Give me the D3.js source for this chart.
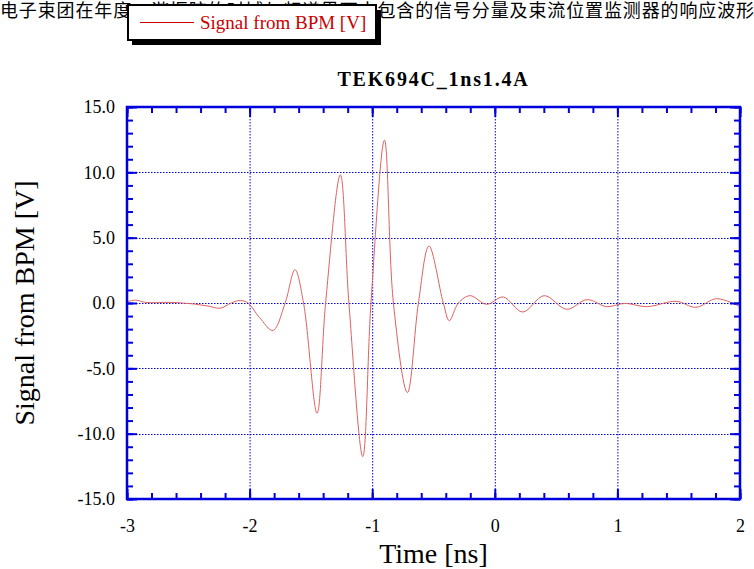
<!DOCTYPE html>
<html>
<head>
<meta charset="utf-8">
<script src="https://cdn.jsdelivr.net/npm/d3@7"></script>
<style>
  body { margin: 0; background: #fff; overflow: hidden; }
  svg { display: block; }
  .serif { font-family: "Liberation Serif", "DejaVu Serif", serif; }
</style>
</head>
<body>
<svg id="chart" width="754" height="569"></svg>
<script>
// waveform (time in ns, signal in V)
var timeNs = [-3.00, -2.93, -2.85, -2.75, -2.65, -2.55, -2.45, -2.33, -2.24, -2.15,
              -2.09, -2.02, -1.92, -1.81, -1.71, -1.63, -1.56, -1.45, -1.38, -1.26,
              -1.19, -1.077, -1.01, -0.90, -0.827, -0.713, -0.623, -0.537, -0.42, -0.371,
              -0.297, -0.202, -0.066, 0.069, 0.227, 0.403, 0.586, 0.754, 0.912, 1.06,
              1.24, 1.48, 1.64, 1.81, 2.00];
var signalV = [0.10, 0.22, 0.05, 0.03, 0.05, 0.00, -0.08, -0.25, -0.40, 0.00,
               0.18, 0.05, -1.10, -2.10, 0.00, 2.55, 0.00, -8.44, 0.00, 9.80,
               0.00, -11.76, 0.00, 12.47, 0.00, -6.86, 0.00, 4.36, 0.00, -1.35,
               0.00, 0.56, -0.10, 0.46, -0.69, 0.56, -0.48, 0.26, -0.28, -0.03,
               -0.28, 0.13, -0.33, 0.33, -0.28];

var xMajor = [-3, -2, -1, 0, 1, 2];
var yMajor = [-15, -10, -5, 0, 5, 10, 15];
var xMinor = d3.range(-3, 2.001, 0.2);
var yMinor = d3.range(-15, 15.001, 1);

var chartTitle = "TEK694C_1ns1.4A";
var seriesName = "Signal from BPM [V]";
var xTitle = "Time [ns]";
var yTitle = "Signal from BPM [V]";
var topText = "电子束团在年度，谐振腔的时域与频谱界面中包含的信号分量及束流位置监测器的响应波形";

var svg = d3.select("#chart");
var plotLeft = 127, plotRight = 740, plotTop = 107, plotBottom = 499;
var blue = "#0000dd";

var x = d3.scaleLinear().domain([-3, 2]).range([plotLeft, plotRight]);
var y = d3.scaleLinear().domain([-15, 15]).range([plotBottom, plotTop]);

// text line along the top edge, behind the legend
svg.append("text")
    .attr("x", 0)
    .attr("y", 17)
    .attr("font-family", "Noto Sans CJK SC")
    .attr("font-size", 18)
    .attr("textLength", 754)
    .attr("lengthAdjust", "spacing")
    .attr("fill", "#000")
    .text(topText);

// legend box with shadow
var legend = svg.append("g");
legend.append("rect")
    .attr("x", 132).attr("y", 10).attr("width", 249).attr("height", 35)
    .attr("fill", "#000");
legend.append("rect")
    .attr("x", 128).attr("y", 5).attr("width", 248).attr("height", 35)
    .attr("fill", "#fff").attr("stroke", "#000").attr("stroke-width", 2);
legend.append("line")
    .attr("x1", 140).attr("x2", 194).attr("y1", 22.5).attr("y2", 22.5)
    .attr("stroke", "#d00000").attr("stroke-width", 1);
legend.append("text")
    .attr("class", "serif")
    .attr("x", 200).attr("y", 29)
    .attr("font-size", 19)
    .attr("fill", "#cc0000")
    .text(seriesName);

// title
svg.append("text")
    .attr("class", "serif")
    .attr("x", (plotLeft + plotRight) / 2)
    .attr("y", 86)
    .attr("text-anchor", "middle")
    .attr("font-size", 20)
    .attr("font-weight", "bold")
    .attr("letter-spacing", 1.8)
    .text(chartTitle);

// grid
var grid = svg.append("g")
    .attr("stroke", blue)
    .attr("stroke-width", 1)
    .attr("stroke-dasharray", "1.5,1.5");
grid.selectAll(".gx")
    .data(xMajor.slice(1, -1))
    .enter().append("line")
        .attr("x1", d => x(d) + 0.5).attr("x2", d => x(d) + 0.5)
        .attr("y1", plotTop).attr("y2", plotBottom);
grid.selectAll(".gy")
    .data(yMajor.slice(1, -1))
    .enter().append("line")
        .attr("y1", d => Math.round(y(d)) + 0.5).attr("y2", d => Math.round(y(d)) + 0.5)
        .attr("x1", plotLeft).attr("x2", plotRight);

// signal
svg.append("clipPath").attr("id", "plotclip")
    .append("rect")
        .attr("x", plotLeft).attr("y", plotTop)
        .attr("width", plotRight - plotLeft).attr("height", plotBottom - plotTop);

var line = d3.line()
    .x(d => x(d[0]))
    .y(d => y(d[1]))
    .curve(d3.curveCatmullRom.alpha(0.5));

svg.append("path")
    .datum(d3.zip(timeNs, signalV))
    .attr("clip-path", "url(#plotclip)")
    .attr("fill", "none")
    .attr("stroke", "#e06060")
    .attr("stroke-width", 1)
    .attr("d", line);

// ticks on all four sides, pointing inward
function styleAxis(g) {
    g.select(".domain").remove();
    g.selectAll(".tick line").attr("stroke", blue).attr("stroke-width", 2);
    g.selectAll(".tick text")
        .attr("class", "serif")
        .attr("font-size", 18)
        .attr("fill", "#000");
}

svg.append("g").attr("transform", "translate(0," + plotBottom + ")")
    .call(d3.axisBottom(x).tickValues(xMinor).tickSize(-6).tickFormat(""))
    .call(styleAxis);
svg.append("g").attr("transform", "translate(0," + plotTop + ")")
    .call(d3.axisTop(x).tickValues(xMinor).tickSize(-6).tickFormat(""))
    .call(styleAxis);
svg.append("g").attr("transform", "translate(" + plotLeft + ",0)")
    .call(d3.axisLeft(y).tickValues(yMinor).tickSize(-6).tickFormat(""))
    .call(styleAxis);
svg.append("g").attr("transform", "translate(" + plotRight + ",0)")
    .call(d3.axisRight(y).tickValues(yMinor).tickSize(-6).tickFormat(""))
    .call(styleAxis);

svg.append("g").attr("transform", "translate(0," + plotBottom + ")")
    .call(d3.axisBottom(x).tickValues(xMajor).tickSize(-10).tickPadding(20)
        .tickFormat(d => String(d)))
    .call(styleAxis);
svg.append("g").attr("transform", "translate(0," + plotTop + ")")
    .call(d3.axisTop(x).tickValues(xMajor).tickSize(-10).tickFormat(""))
    .call(styleAxis);
svg.append("g").attr("transform", "translate(" + plotLeft + ",0)")
    .call(d3.axisLeft(y).tickValues(yMajor).tickSize(-10).tickPadding(12)
        .tickFormat(d => d.toFixed(1)))
    .call(styleAxis);
svg.append("g").attr("transform", "translate(" + plotRight + ",0)")
    .call(d3.axisRight(y).tickValues(yMajor).tickSize(-10).tickFormat(""))
    .call(styleAxis);

// frame
svg.append("rect")
    .attr("x", plotLeft).attr("y", plotTop)
    .attr("width", plotRight - plotLeft).attr("height", plotBottom - plotTop)
    .attr("fill", "none")
    .attr("stroke", blue)
    .attr("stroke-width", 2.5);

// axis titles
svg.append("text")
    .attr("class", "serif")
    .attr("x", (plotLeft + plotRight) / 2)
    .attr("y", 563)
    .attr("text-anchor", "middle")
    .attr("font-size", 28)
    .text(xTitle);

svg.append("text")
    .attr("class", "serif")
    .attr("transform", "translate(34," + ((plotTop + plotBottom) / 2) + ") rotate(-90)")
    .attr("text-anchor", "middle")
    .attr("font-size", 28)
    .text(yTitle);
</script>
</body>
</html>
